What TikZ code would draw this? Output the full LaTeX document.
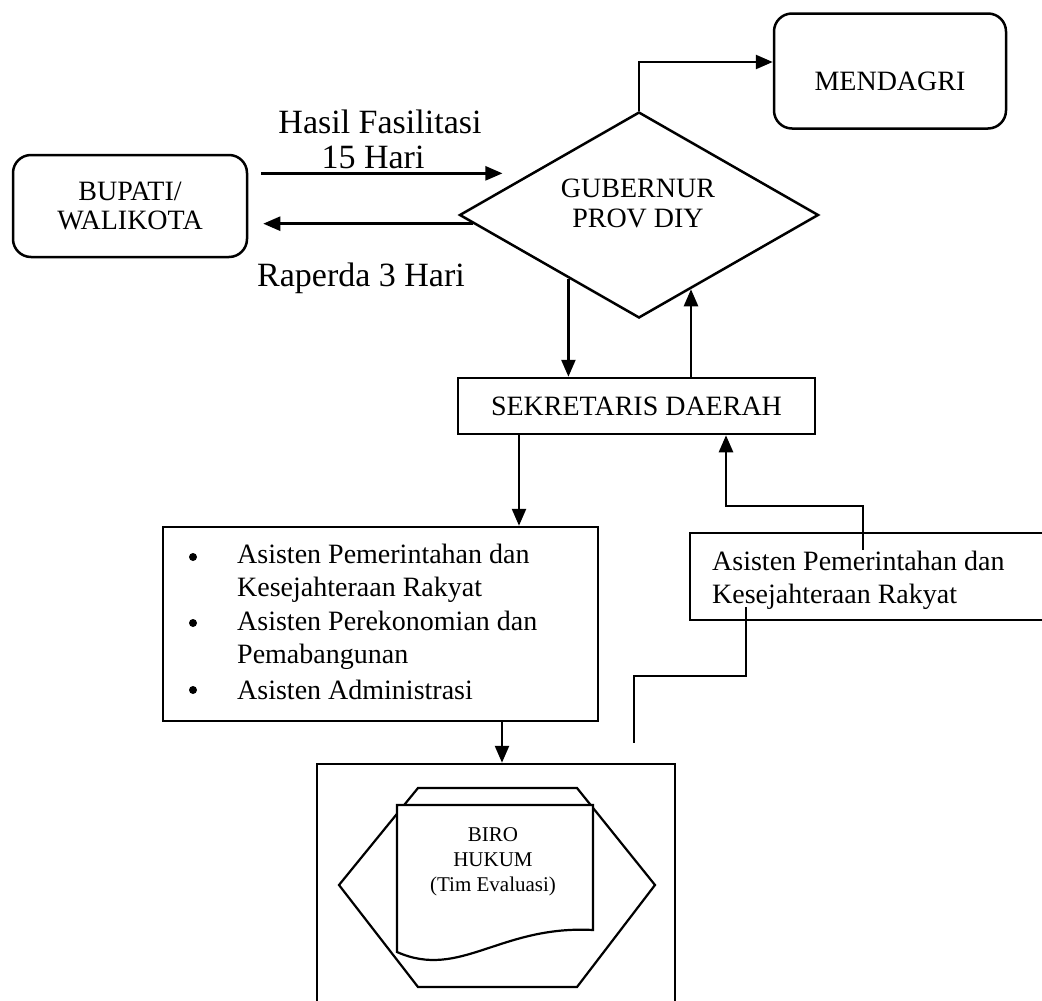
\documentclass[tikz,border=0pt]{standalone}
\usepackage{fontspec}
\setmainfont{Liberation Serif}
\usetikzlibrary{shapes.geometric,arrows.meta,calc}
\begin{document}
\begin{tikzpicture}[x=1pt,y=-1pt,
  lw/.style={line width=2.5pt},
  arr/.style={lw, -{Triangle[length=17pt,width=14pt]}},
  rbox/.style={draw, lw, rounded corners=18pt, inner sep=0pt},
  box/.style={draw, lw, inner sep=0pt},
  boxtxt/.style={font=\fontsize{28}{29}\selectfont, align=center},
  itemtxt/.style={font=\fontsize{28}{33.3}\selectfont, align=left, inner sep=0pt},
  dot/.style={circle, fill, inner sep=0pt, minimum size=8pt},
  lbl/.style={font=\fontsize{34}{35}\selectfont},
  birotxt/.style={font=\fontsize{21}{25}\selectfont, align=center}]
\useasboundingbox (0,0) rectangle (1042,1001);

% top row: regency box, governor decision, ministry
\node[rbox, minimum width=234pt, minimum height=102pt, boxtxt] (bup) at (130,206) {BUPATI/\\WALIKOTA};
\node[rbox, minimum width=232pt, minimum height=115pt,
      label={[boxtxt, yshift=-10pt]center:MENDAGRI}] (men) at (890,71) {};
\node[diamond, draw, lw, minimum width=359pt, minimum height=206pt,
      inner sep=0pt, aspect=1.74] (gub) at (639,215) {};
\node[boxtxt, font=\fontsize{28}{30}\selectfont] (gubtxt) at (638,203) {GUBERNUR\\PROV DIY};

% edge labels
\node[lbl] (hf) at (380,122) {Hasil Fasilitasi};
\node[lbl] (hr) at (373,157) {15 Hari};
\node[lbl] (rp) at (361,278) {Raperda 3 Hari};

% secretariat
\node[box, minimum width=357pt, minimum height=56pt, boxtxt] (sek) at (636.5,406) {SEKRETARIS DAERAH};

% assistants (left, bulleted)
\node[box, minimum width=435pt, minimum height=194pt] (bul) at (380.5,624) {};
\node[dot] (b1) at (193,557) {};
\node[dot] (b2) at (193,623) {};
\node[dot] (b3) at (193,690) {};
\node[itemtxt, anchor=west] (i1) at (237,573.5) {Asisten Pemerintahan dan\\Kesejahteraan Rakyat};
\node[itemtxt, anchor=west] (i2) at (237,640) {Asisten Perekonomian dan\\Pemabangunan};
\node[itemtxt, anchor=west] (i3) at (237,690) {Asisten Administrasi};

% assistant (right)
\node[box, minimum width=370pt, minimum height=87pt] (rb) at (875,576.5) {};
\node[itemtxt, anchor=west] (rbt) at (712,580) {Asisten Pemerintahan dan\\Kesejahteraan Rakyat};

% legal bureau
\node[box, minimum width=358pt, minimum height=256pt] (biro) at (496,892) {};
\draw[line width=2.2pt] (418,788) -- (577,788) -- (655,885) -- (577,987)
  -- (418,987) -- (339,885) -- cycle;
\draw[line width=2.2pt, fill=white] (397,805) -- (593,805) -- (593,930)
  .. controls (500,925) and (460,980) .. (397,952) -- cycle;
\node[birotxt] (birot) at (493,862) {BIRO\\HUKUM\\(Tim Evaluasi)};

% connectors
\draw[arr, shorten <=13pt, shorten >=28pt] (bup.east |- gub.159.2) -- (gub.159.2);
\draw[arr, shorten >=15pt] (gub.183.5) -- (gub.183.5 -| bup.east);
\draw[arr] (gub.north) |- ([yshift=9pt]men.west);
\draw[arr] (gub.222) -- (gub.222 |- sek.north);
\draw[arr] (gub.305.5 |- sek.north) -- (gub.305.5);
\draw[arr] ([xshift=-117.5pt]sek.south) -- ([xshift=-117.5pt]sek.south |- bul.north);
\draw[arr] ([xshift=6pt]biro.north |- bul.south) -- ([xshift=6pt]biro.north);
\coordinate (rbin) at (863,550);
\draw[arr] (rbin) -- ++(0,-44) -| ([xshift=89.5pt]sek.south);
\coordinate (rbout) at (746,607);
\coordinate (rbend) at (634,743);
\draw[lw] (rbout) -- ++(0,69) -| (rbend);
\end{tikzpicture}
\end{document}
